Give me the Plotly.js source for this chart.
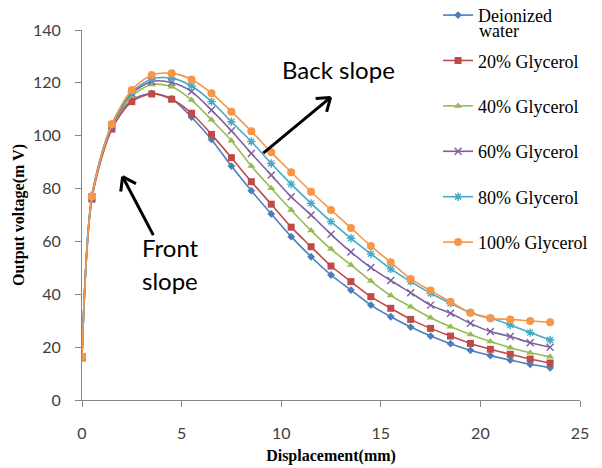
<!DOCTYPE html>
<html>
<head>
<meta charset="utf-8">
<script src="https://cdn.plot.ly/plotly-3.0.1.min.js"></script>
<style>html,body{margin:0;padding:0;background:#fff;}#chart{width:602px;height:468px;}</style>
</head>
<body>
<div id="chart"></div>
<script>
// Displacement (mm)
const displacement = [0, 0.5, 1.5, 2.5, 3.5, 4.5, 5.5, 6.5, 7.5, 8.5, 9.5, 10.5, 11.5, 12.5, 13.5, 14.5, 15.5, 16.5, 17.5, 18.5, 19.5, 20.5, 21.5, 22.5, 23.5];
// Output voltage (mV)
const deionizedWater = [16.5, 77.5, 104, 113.5, 116, 114, 107, 98.6, 88.5, 79.2, 70.4, 61.8, 54.2, 47.3, 41.6, 35.9, 31.5, 27.6, 24.2, 21.3, 18.8, 16.8, 15.1, 13.5, 12.2];
const glycerol20 = [16, 76, 102.5, 112.9, 115.8, 113.8, 108.5, 100.5, 91.7, 82.6, 74.1, 65.4, 58, 50.7, 44.8, 39.1, 34.7, 30.5, 27.1, 24.2, 21.4, 19.2, 17.3, 15.5, 14.0];
const glycerol40 = [15.1, 76.5, 104, 115, 119.4, 118.5, 113.5, 106, 98.1, 88.5, 80.1, 71.9, 64.1, 57.1, 51.1, 45, 39.5, 35.3, 31.1, 27.7, 24.8, 22.1, 19.8, 17.9, 16.4];
const glycerol60 = [16.4, 76.8, 104, 116, 120.5, 120.1, 116.7, 109.7, 101.9, 93.3, 85.1, 76.9, 70, 62.7, 56, 50.1, 45.2, 40.6, 35.9, 32.8, 29, 25.9, 24, 21.7, 20];
const glycerol80 = [16.4, 77, 104.2, 116.5, 121.5, 121.8, 118.8, 112.9, 105.3, 97.8, 89.5, 81.7, 74.4, 67.5, 61.2, 55.3, 49.6, 44.8, 40.4, 36.6, 33, 31, 28.4, 25.5, 22.7];
const glycerol100 = [16.4, 77, 104.4, 117.3, 123, 123.6, 121.3, 116.1, 109.1, 101.7, 93.7, 86.2, 78.8, 71.9, 65.1, 58.3, 52.1, 45.8, 41.4, 37.2, 33, 30.9, 30.5, 29.9, 29.4];
const seriesNames = ['Deionized', '20% Glycerol', '40% Glycerol', '60% Glycerol', '80% Glycerol', '100% Glycerol'];
const seriesValues = [deionizedWater, glycerol20, glycerol40, glycerol60, glycerol80, glycerol100];

const colors = ['#4A7EBB', '#BE4B48', '#98B954', '#7D60A0', '#46AAC5', '#F79646'];
const symbols = ['diamond', 'square', 'triangle-up', 'x-thin-open', 'asterisk-open', 'circle'];
const sizes = [6, 7, 7, 7, 7, 8];

const traces = seriesValues.map((vals, i) => {
  const open = symbols[i].endsWith('-open');
  return {
    x: displacement, y: vals, name: seriesNames[i], type: 'scatter', mode: 'lines+markers',
    legendgroup: 'g' + i,
    line: {color: colors[i], width: 1.6, shape: 'spline', smoothing: 0.8},
    marker: {symbol: symbols[i], size: sizes[i], color: colors[i],
      line: open ? {color: colors[i], width: 1.4} : {width: 0}}
  };
});

// arrow helper (data coordinates -> pixel-based head)
const pxX = 498 / 25, pxY = 370 / 140;
function arrow(x0, y0, x1, y1) {
  const dx = (x1 - x0) * pxX, dy = (y1 - y0) * pxY;
  const L = Math.hypot(dx, dy), ux = dx / L, uy = dy / L;
  const h = 15, a = 35 * Math.PI / 180;
  const out = [{type: 'line', xref: 'x', yref: 'y', x0: x0, y0: y0, x1: x1, y1: y1, line: {color: '#000', width: 3}}];
  [a, -a].forEach(t => {
    const bx = -(ux * Math.cos(t) - uy * Math.sin(t)) * h;
    const by = -(ux * Math.sin(t) + uy * Math.cos(t)) * h;
    out.push({type: 'line', xref: 'x', yref: 'y', x0: x1, y0: y1, x1: x1 + bx / pxX, y1: y1 + by / pxY, line: {color: '#000', width: 3}});
  });
  return out;
}
const shapes = [].concat(arrow(3.58, 62.4, 2.04, 84.5), arrow(9.1, 93.4, 12.48, 114.5));

const serif = 'Liberation Serif, Times New Roman, serif';
const sans = 'Lato, Liberation Sans, sans-serif';
const tickFont = {family: sans, size: 16, color: '#404040'};
const layout = {
  width: 602, height: 468,
  font: {family: serif, size: 16, color: '#000'},
  margin: {l: 82, r: 22, t: 30, b: 68, autoexpand: false},
  paper_bgcolor: '#fff', plot_bgcolor: '#fff',
  showlegend: true,
  legend: {x: 0.715, xanchor: 'left', y: 1.0895, yanchor: 'top', valign: 'middle', maxheight: 1,
    font: {family: serif, size: 18, color: '#000'},
    tracegroupgap: 19, bgcolor: 'rgba(0,0,0,0)'},
  xaxis: {range: [0, 25], dtick: 5, tick0: 0, showline: true, linecolor: '#868686', linewidth: 1,
    ticks: 'outside', ticklen: 6, tickcolor: '#868686', showgrid: false, zeroline: false,
    tickfont: tickFont, ticklabelstandoff: 13,
    title: {text: 'Displacement(mm)', standoff: 8, font: {family: serif, size: 16, color: '#000', weight: 'bold'}}},
  yaxis: {range: [0, 140], dtick: 20, tick0: 0, showline: true, linecolor: '#868686', linewidth: 1,
    ticks: 'outside', ticklen: 6, tickcolor: '#868686', showgrid: false, zeroline: false,
    tickfont: tickFont, ticklabelstandoff: 11,
    title: {text: 'Output voltage(m V)', standoff: 4, font: {family: serif, size: 16, color: '#000', weight: 'bold'}}},
  shapes: shapes,
  annotations: [
    {x: 12.9, y: 125, xref: 'x', yref: 'y', text: 'Back slope', showarrow: false,
      font: {family: sans, size: 24, color: '#000'}},
    {x: 4.46, y: 57.6, xref: 'x', yref: 'y', text: 'Front', showarrow: false,
      font: {family: sans, size: 24, color: '#000'}},
    {x: 4.4, y: 45.4, xref: 'x', yref: 'y', text: 'slope', showarrow: false,
      font: {family: sans, size: 24, color: '#000'}},
    {x: 0.793, y: 0.997, xref: 'paper', yref: 'paper', xanchor: 'left', yanchor: 'middle', text: 'water', showarrow: false,
      font: {family: serif, size: 18, color: '#000'}}
  ]
};
Plotly.newPlot('chart', traces, layout, {displayModeBar: false, staticPlot: true});
</script>
</body>
</html>
